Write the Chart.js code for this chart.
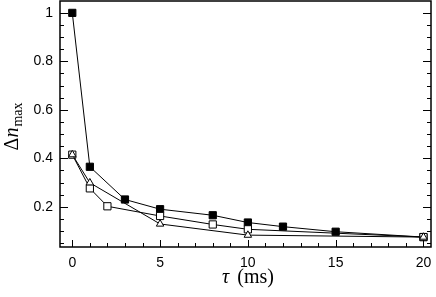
<!DOCTYPE html>
<html>
<head>
<meta charset="utf-8">
<script src="https://cdn.jsdelivr.net/npm/chart.js@4"></script>
<style>
  html, body { margin: 0; padding: 0; background: #fff; }
  canvas { display: block; }
</style>
</head>
<body>
<canvas id="chart" width="436" height="297"></canvas>
<script>
// tau (ms) and peak Delta n for the three runs
const tauA = [0, 1, 3, 5, 8, 10, 12, 15, 20];
const dnA  = [1.0, 0.365, 0.23, 0.19, 0.165, 0.135, 0.118, 0.097, 0.075];
const tauB = [0, 1, 2, 5, 8, 10, 20];
const dnB  = [0.415, 0.276, 0.202, 0.162, 0.127, 0.107, 0.075];
const tauC = [0, 1, 5, 10, 20];
const dnC  = [0.415, 0.299, 0.129, 0.083, 0.075];

const xTicks = [0, 5, 10, 15, 20];
const yTicks = [0.2, 0.4, 0.6, 0.8, 1];

const toPts = (xs, ys) => xs.map((x, i) => ({ x: x, y: ys[i] }));

// frame, inward ticks (bottom, left, right) and the two axis titles
const framePlugin = {
    id: 'frame',
    afterDraw: function (chart) {
        const ctx = chart.ctx;
        const a = chart.chartArea;
        const xs = chart.scales.x;
        const ys = chart.scales.y;
        ctx.save();
        ctx.strokeStyle = '#000';
        ctx.lineWidth = 1;
        // x ticks every 1, major every 5
        for (let v = 0; v <= 20; v++) {
            const px = Math.round(xs.getPixelForValue(v)) + 0.5;
            const len = v % 5 === 0 ? 7 : 4;
            ctx.beginPath();
            ctx.moveTo(px, a.bottom); ctx.lineTo(px, a.bottom - len);
            ctx.stroke();
        }
        // y ticks every 0.05, major every 0.2
        for (let k = 1; k <= 20; k++) {
            const v = k * 0.05;
            const py = Math.round(ys.getPixelForValue(v)) + 0.5;
            const len = k % 4 === 0 ? 8 : 4;
            ctx.beginPath();
            ctx.moveTo(a.left, py); ctx.lineTo(a.left + len, py);
            ctx.moveTo(a.right, py); ctx.lineTo(a.right - len, py);
            ctx.stroke();
        }
        ctx.lineWidth = 1.5;
        ctx.strokeRect(a.left, a.top, a.right - a.left, a.bottom - a.top);

        // x title: tau (ms)
        ctx.fillStyle = '#000';
        ctx.textBaseline = 'alphabetic';
        const cx = (a.left + a.right) / 2 + 1;
        ctx.font = 'italic 20px "Liberation Serif"';
        const wTau = ctx.measureText('τ').width;
        ctx.font = '20px "Liberation Serif"';
        const wMs = ctx.measureText(' (ms)').width;
        let x0 = cx - (wTau + wMs) / 2;
        ctx.textAlign = 'left';
        ctx.font = 'italic 20px "Liberation Serif"';
        ctx.fillText('τ', x0, 283);
        ctx.font = '20px "Liberation Serif"';
        ctx.fillText(' (ms)', x0 + wTau + 3, 283);

        // y title: Delta n_max, rotated
        ctx.translate(18, 127);
        ctx.rotate(-Math.PI / 2);
        ctx.font = '20px "Liberation Serif"';
        const wD = ctx.measureText('Δ').width;
        ctx.font = 'italic 20px "Liberation Serif"';
        const wN = ctx.measureText('n').width;
        ctx.font = '14px "Liberation Serif"';
        const wSub = ctx.measureText('max').width;
        let y0 = -(wD + wN + wSub) / 2;
        ctx.font = '20px "Liberation Serif"';
        ctx.fillText('Δ', y0, 0);
        ctx.font = 'italic 20px "Liberation Serif"';
        ctx.fillText('n', y0 + wD, 0);
        ctx.font = '14px "Liberation Serif"';
        ctx.fillText('max', y0 + wD + wN + 1, 4);
        ctx.restore();
    }
};

const base = {
    borderColor: '#000',
    borderWidth: 1,
    pointBorderColor: '#000',
    pointBorderWidth: 1,
    showLine: true,
    tension: 0
};

new Chart(document.getElementById('chart'), {
    type: 'scatter',
    data: {
        datasets: [
            Object.assign({}, base, {
                label: 'A', data: toPts(tauA, dnA), order: 3,
                pointStyle: 'rect', pointRadius: 5.1, pointBackgroundColor: '#000'
            }),
            Object.assign({}, base, {
                label: 'B', data: toPts(tauB, dnB), order: 2,
                pointStyle: 'rect', pointRadius: 5.1, pointBackgroundColor: '#fff'
            }),
            Object.assign({}, base, {
                label: 'C', data: toPts(tauC, dnC), order: 1,
                pointStyle: 'triangle', pointRadius: 4.3, pointBackgroundColor: '#fff'
            })
        ]
    },
    options: {
        responsive: false,
        animation: false,
        maintainAspectRatio: false,
        layout: { autoPadding: false, padding: { top: 1, right: 5, left: 0, bottom: 0 } },
        plugins: { legend: { display: false }, tooltip: { enabled: false } },
        scales: {
            x: {
                type: 'linear', min: -0.7, max: 20.43,
                afterBuildTicks: s => { s.ticks = xTicks.map(v => ({ value: v })); },
                afterFit: s => { s.height = 50; s.paddingLeft = 0; s.paddingRight = 0; },
                grid: { display: false, drawTicks: false },
                border: { display: false },
                ticks: { color: '#000', padding: 8, font: { family: '"Liberation Sans"', size: 14 } }
            },
            y: {
                type: 'linear', min: 0.034, max: 1.049,
                afterBuildTicks: s => { s.ticks = yTicks.map(v => ({ value: v })); },
                afterFit: s => { s.width = 60; s.paddingTop = 0; s.paddingBottom = 0; },
                grid: { display: false, drawTicks: false },
                border: { display: false },
                ticks: {
                    color: '#000', padding: 7, font: { family: '"Liberation Sans"', size: 14 },
                    callback: v => String(v)
                }
            }
        }
    },
    plugins: [framePlugin]
});
</script>
</body>
</html>
